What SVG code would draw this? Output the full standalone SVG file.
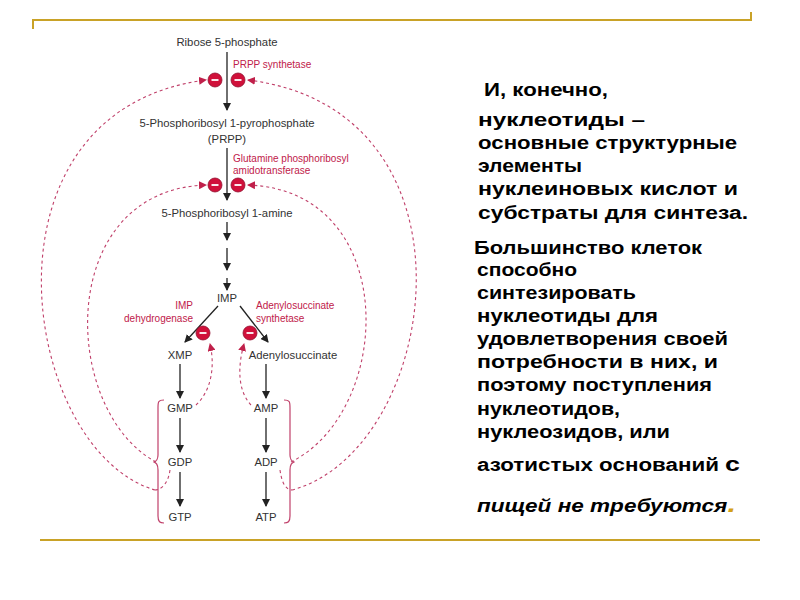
<svg xmlns="http://www.w3.org/2000/svg" width="800" height="600" viewBox="0 0 800 600">
<style>
.t{font-family:"Liberation Sans",Arial,sans-serif;font-size:11.3px;fill:#333}
.e{font-family:"Liberation Sans",Arial,sans-serif;font-size:10px;fill:#c0204a}
.r{font-family:"Liberation Sans",Arial,sans-serif;font-size:17.5px;font-weight:bold;fill:#000}
.a{stroke:#222;stroke-width:1.3;fill:none;marker-end:url(#ah)}
.d{stroke:#c0406a;stroke-width:1.1;fill:none;stroke-dasharray:3,3}
.da{marker-end:url(#pa)}
.b{stroke:#c0406a;stroke-width:1.2;fill:none}
.c{fill:#d0103a;stroke:#901030;stroke-width:0.8}
.m{stroke:#fff;stroke-width:1.8}
</style>
<defs>
<marker id="ah" markerWidth="8" markerHeight="8" refX="7" refY="4" orient="auto" markerUnits="userSpaceOnUse"><path d="M0,0L8,4L0,8z" fill="#222"/></marker>
<marker id="pa" markerWidth="8" markerHeight="8" refX="7" refY="4" orient="auto" markerUnits="userSpaceOnUse"><path d="M0,0L8,4L0,8z" fill="#c0204a"/></marker>
<symbol id="inh" viewBox="-8 -8 16 16"><circle r="7" class="c"/><line x1="-3.5" y1="0" x2="3.5" y2="0" class="m"/></symbol>
</defs>
<g id="frame" stroke="#c9a227" stroke-width="2">
<line x1="32" y1="20" x2="752" y2="20"/><line x1="33" y1="20" x2="33" y2="29"/><line x1="751" y1="12" x2="751" y2="20"/>
<line x1="40" y1="540" x2="760" y2="540"/>
</g>
<g id="connectors">
<line class="a" x1="227" y1="52" x2="227" y2="110"/>
<line class="a" x1="227" y1="148" x2="227" y2="200"/>
<line class="a" x1="227" y1="222" x2="227" y2="240"/>
<line class="a" x1="227" y1="248" x2="227" y2="270"/>
<line class="a" x1="227" y1="278" x2="227" y2="290"/>
<line class="a" x1="218" y1="306" x2="185" y2="342"/>
<line class="a" x1="240" y1="306" x2="268" y2="342"/>
<line class="a" x1="180" y1="364" x2="180" y2="398"/>
<line class="a" x1="266" y1="364" x2="266" y2="398"/>
<line class="a" x1="180" y1="418" x2="180" y2="452"/>
<line class="a" x1="266" y1="418" x2="266" y2="452"/>
<line class="a" x1="180" y1="472" x2="180" y2="506"/>
<line class="a" x1="266" y1="472" x2="266" y2="506"/>
<path class="d da" d="M155,490 C20,450 -30,110 206,80"/>
<path class="d da" d="M292,490 C440,450 490,110 248,80"/>
<path class="d da" d="M156,462 C60,410 55,190 206,185"/>
<path class="d da" d="M291,462 C395,410 400,190 248,185"/>
<path class="d da" d="M196,405 C212,390 215,365 210,344"/>
<path class="d da" d="M251,405 C237,390 238,365 244,344"/>
<path class="d" d="M170,470 C168,485 160,490 155,490"/>
<path class="d" d="M280,470 C282,485 287,490 292,490"/>
<path class="b" d="M164,400 C158,400 158,402 158,408 L158,455 C158,460 156,461 154,462 C156,463 158,464 158,470 L158,516 C158,522 160,523 164,523"/>
<path class="b" d="M284,400 C290,400 290,402 290,408 L290,455 C290,460 292,461 294,462 C292,463 290,464 290,470 L290,516 C290,522 288,523 284,523"/>
</g>
<g id="inhibitors">
<use href="#inh" x="207" y="72" width="16" height="16"/>
<use href="#inh" x="230" y="72" width="16" height="16"/>
<use href="#inh" x="207" y="177" width="16" height="16"/>
<use href="#inh" x="230" y="177" width="16" height="16"/>
<use href="#inh" x="195" y="325" width="16" height="16"/>
<use href="#inh" x="242" y="325" width="16" height="16"/>
</g>
<g id="nodes">
<text class="t" x="227" y="46" text-anchor="middle">Ribose 5-phosphate</text>
<text class="t" x="227" y="127" text-anchor="middle">5-Phosphoribosyl 1-pyrophosphate</text>
<text class="t" x="227" y="143" text-anchor="middle">(PRPP)</text>
<text class="t" x="227" y="217" text-anchor="middle">5-Phosphoribosyl 1-amine</text>
<text class="t" x="227" y="302" text-anchor="middle">IMP</text>
<text class="t" x="180" y="359" text-anchor="middle">XMP</text>
<text class="t" x="293" y="359" text-anchor="middle">Adenylosuccinate</text>
<text class="t" x="180" y="412" text-anchor="middle">GMP</text>
<text class="t" x="180" y="466" text-anchor="middle">GDP</text>
<text class="t" x="180" y="521" text-anchor="middle">GTP</text>
<text class="t" x="266" y="412" text-anchor="middle">AMP</text>
<text class="t" x="266" y="466" text-anchor="middle">ADP</text>
<text class="t" x="266" y="521" text-anchor="middle">ATP</text>
<text class="e" x="233" y="68">PRPP synthetase</text>
<text class="e" x="233" y="162">Glutamine phosphoribosyl</text>
<text class="e" x="233" y="174">amidotransferase</text>
<text class="e" x="193" y="309" text-anchor="end">IMP</text>
<text class="e" x="193" y="322" text-anchor="end">dehydrogenase</text>
<text class="e" x="256" y="309">Adenylosuccinate</text>
<text class="e" x="256" y="322">synthetase</text>
</g>
<g id="text">
<text class="r" x="484" y="96" textLength="124" lengthAdjust="spacingAndGlyphs">И, конечно,</text>
<text class="r" x="478" y="126" textLength="167" lengthAdjust="spacingAndGlyphs">нуклеотиды –</text>
<text class="r" x="478" y="149" textLength="259" lengthAdjust="spacingAndGlyphs">основные структурные</text>
<text class="r" x="478" y="172" textLength="104" lengthAdjust="spacingAndGlyphs">элементы</text>
<text class="r" x="478" y="195" textLength="260" lengthAdjust="spacingAndGlyphs">нуклеиновых кислот и</text>
<text class="r" x="478" y="219" textLength="270" lengthAdjust="spacingAndGlyphs">субстраты для синтеза.</text>
<text class="r" x="474" y="254" textLength="228" lengthAdjust="spacingAndGlyphs">Большинство клеток</text>
<text class="r" x="477" y="276" textLength="100" lengthAdjust="spacingAndGlyphs">способно</text>
<text class="r" x="477" y="299" textLength="159" lengthAdjust="spacingAndGlyphs">синтезировать</text>
<text class="r" x="477" y="322" textLength="181" lengthAdjust="spacingAndGlyphs">нуклеотиды для</text>
<text class="r" x="477" y="345" textLength="251" lengthAdjust="spacingAndGlyphs">удовлетворения своей</text>
<text class="r" x="477" y="368" textLength="241" lengthAdjust="spacingAndGlyphs">потребности в них,  и</text>
<text class="r" x="477" y="391" textLength="235" lengthAdjust="spacingAndGlyphs">поэтому поступления</text>
<text class="r" x="477" y="415" textLength="143" lengthAdjust="spacingAndGlyphs">нуклеотидов,</text>
<text class="r" x="477" y="438" textLength="193" lengthAdjust="spacingAndGlyphs">нуклеозидов, или</text>
<text class="r" x="477" y="471" textLength="263" lengthAdjust="spacingAndGlyphs">азотистых оснований <tspan font-size="21">с</tspan></text>
<text class="r" x="477" y="512" font-style="italic" textLength="259" lengthAdjust="spacingAndGlyphs">пищей не требуются<tspan fill="#d4a017" font-size="24">.</tspan></text>
</g>
</svg>
